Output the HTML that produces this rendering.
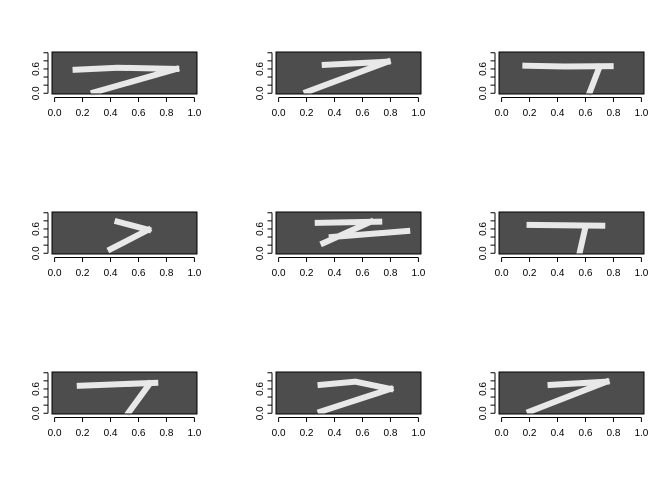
<!DOCTYPE html>
<html><head><meta charset="utf-8"><style>
body{margin:0;background:#fff;}
svg{display:block;font-family:"Liberation Sans",sans-serif;}
</style></head><body>
<svg id="c" width="672" height="480"></svg>
<script>
const xTicks=[0,0.2,0.4,0.6,0.8,1.0];
const xTickLabels=["0.0","0.2","0.4","0.6","0.8","1.0"];
const yTicks=[0,0.2,0.4,0.6,0.8,1.0];
const yTickLabels=["0.0","","","0.6","",""];
const digit1=[[[0.15,0.58],[0.45,0.63],[0.87,0.6]],[[0.87,0.6],[0.28,0.02]]];
const digit2=[[[0.33,0.7],[0.78,0.78]],[[0.78,0.78],[0.2,0.03]]];
const digit3=[[[0.17,0.68],[0.45,0.66],[0.78,0.67]],[[0.7,0.65],[0.63,0.02]]];
const digit4=[[[0.45,0.78],[0.67,0.58]],[[0.67,0.58],[0.4,0.1]]];
const digit5=[[[0.28,0.75],[0.72,0.78]],[[0.66,0.78],[0.32,0.25]],[[0.38,0.4],[0.92,0.55]]];
const digit6=[[[0.2,0.7],[0.72,0.68]],[[0.6,0.65],[0.56,0.04]]];
const digit7=[[[0.18,0.68],[0.72,0.75]],[[0.68,0.73],[0.53,0.02]]];
const digit8=[[[0.3,0.7],[0.55,0.78],[0.8,0.6]],[[0.8,0.6],[0.3,0.04]]];
const digit9=[[[0.35,0.7],[0.75,0.78]],[[0.75,0.78],[0.2,0.04]]];
const digits=[digit1,digit2,digit3,digit4,digit5,digit6,digit7,digit8,digit9];
const NS="http://www.w3.org/2000/svg";
const svg=document.getElementById('c');
function mk(t,a,p){const e=document.createElementNS(NS,t);for(const k in a)e.setAttribute(k,a[k]);p.appendChild(e);return e;}
const colX=[52,276,499],rowY=[52,212,372],W=145,H=42;
digits.forEach((d,i)=>{
  const ox=colX[i%3],oy=rowY[Math.floor(i/3)];
  const g=mk('g',{},svg);
  
  
  const e=1/54;
  const sx=v=>ox+(v+e)/(1+2*e)*W;
  const sy=v=>oy+H-(v+e)/(1+2*e)*H;
  const bg=mk('rect',{x:ox,y:oy,width:W,height:H,fill:'#4d4d4d'},g);
  
  
  d.forEach(s=>{
    const pl=mk('polyline',{points:s.map(p=>sx(p[0])+','+sy(p[1])).join(' '),fill:'none',stroke:'#e8e8e8','stroke-width':6,'stroke-linecap':'square','stroke-linejoin':'miter'},g);
    
    
  });
  mk('rect',{x:ox,y:oy,width:W,height:H,fill:'none',stroke:'#000','stroke-width':1},g);
  const by=oy+H;
  mk('line',{x1:sx(0),x2:sx(1),y1:by+3.5,y2:by+3.5,stroke:'#000'},g);
  xTicks.forEach((t,j)=>{
    mk('line',{x1:sx(t),x2:sx(t),y1:by+3.5,y2:by+8,stroke:'#000'},g);
    const tx=mk('text',{x:sx(t),y:by+22,'font-size':10,'text-anchor':'middle'},g);
    tx.textContent=xTickLabels[j];
    
    
  });
  const lx=ox-4;
  mk('line',{x1:lx,x2:lx,y1:sy(0),y2:sy(1),stroke:'#000'},g);
  yTicks.forEach((t,j)=>{
    mk('line',{x1:lx-4.5,x2:lx,y1:sy(t),y2:sy(t),stroke:'#000'},g);
    if(yTickLabels[j]){
      const tx=mk('text',{x:0,y:0,'font-size':10,'text-anchor':'middle',transform:`translate(${lx-9},${sy(t)}) rotate(-90)`},g);
      tx.textContent=yTickLabels[j];
      
      
    }
  });
});
</script>
</body></html>
